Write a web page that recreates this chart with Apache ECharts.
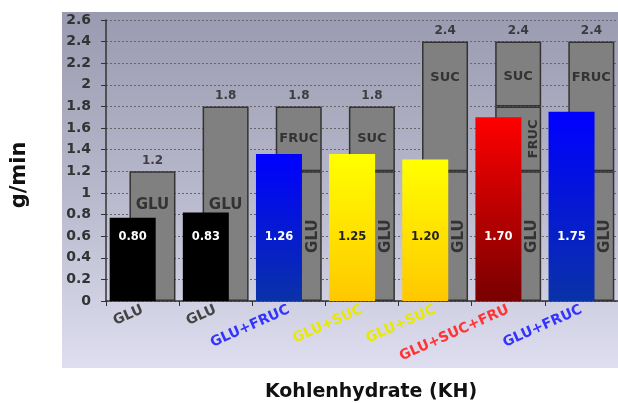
<!DOCTYPE html>
<html>
<head>
<meta charset="utf-8">
<script src="https://cdn.jsdelivr.net/npm/echarts@6/dist/echarts.min.js"></script>
<style>
html,body{margin:0;padding:0;background:#fff;}
#chart{width:618px;height:403px;}
</style>
</head>
<body>
<div id="chart"></div>
<script>
// ---- data ----
const categories = ['GLU', 'GLU', 'GLU+FRUC', 'GLU+SUC', 'GLU+SUC', 'GLU+SUC+FRU', 'GLU+FRUC'];
const categoryColors = ['#444444', '#444444', '#3333ff', '#e8e800', '#e8e800', '#ff3333', '#3333ff'];
const intakeValues = [0.77, 0.82, 1.36, 1.36, 1.31, 1.70, 1.75];
const intakeLabels = ['0.80', '0.83', '1.26', '1.25', '1.20', '1.70', '1.75'];
const gluSegment = [1.2, 1.8, 1.2, 1.2, 1.2, 1.2, 1.2];
const midSegment = [null, null, 0.6, 0.6, 1.2, 0.6, 1.2];
const midNames = ['', '', 'FRUC', 'SUC', 'SUC', 'FRUC', 'FRUC'];
const topSegment = [null, null, null, null, null, 0.6, null];
const topNames = ['', '', '', '', '', 'SUC', ''];
const totals = [1.2, 1.8, 1.8, 1.8, 2.4, 2.4, 2.4];
const totalLabels = ['1.2', '1.8', '1.8', '1.8', '2.4', '2.4', '2.4'];
const yAxisTitle = 'g/min';
const xAxisTitle = 'Kohlenhydrate (KH)';

// ---- styles ----
const FONT = 'DejaVu Sans, Verdana, sans-serif';
const barGradients = [
  ['#000000', '#000000'],
  ['#000000', '#000000'],
  ['#0000ff', '#0a32a8'],
  ['#ffff00', '#ffc800'],
  ['#ffff00', '#ffc800'],
  ['#ff0000', '#780000'],
  ['#0000ff', '#0a32a8']
];
const lightText = [true, true, true, false, false, true, true];
const grad = (a, b) => new echarts.graphic.LinearGradient(0, 0, 0, 1, [{offset: 0, color: a}, {offset: 1, color: b}]);
const grayStyle = {color: '#808080', borderColor: '#333333', borderWidth: 1.5};
const segLabelBase = {show: true, color: '#333333', fontWeight: 'bold', fontSize: 13, fontFamily: FONT};
const gluLabelBase = {show: true, color: '#333333', fontWeight: 'bold', fontSize: 15, fontFamily: FONT};

const chart = echarts.init(document.getElementById('chart'));
chart.setOption({
  animation: false,
  backgroundColor: '#ffffff',
  graphic: [
    {
      type: 'rect', z: -10, silent: true,
      shape: {x: 62, y: 12, width: 560, height: 356},
      style: {fill: new echarts.graphic.LinearGradient(0, 0, 0, 1, [
        {offset: 0, color: '#9a9ab0'}, {offset: 0.5, color: '#b8b8cc'}, {offset: 1, color: '#dedef0'}])}
    },
    {
      type: 'text', x: 20, y: 175, rotation: Math.PI / 2, silent: true,
      style: {text: yAxisTitle, fill: '#111', font: 'bold 21px ' + FONT, align: 'center', verticalAlign: 'middle'}
    },
    {
      type: 'text', x: 371, y: 392, silent: true,
      style: {text: xAxisTitle, fill: '#111', font: 'bold 19px ' + FONT, align: 'center', verticalAlign: 'middle'}
    }
  ],
  grid: {left: 106, top: 20, width: 516.6, height: 281, containLabel: false},
  xAxis: {
    type: 'category',
    data: categories.map((c, i) => ({value: c, textStyle: {color: categoryColors[i]}})),
    axisLine: {lineStyle: {color: '#333', width: 1.5}},
    axisTick: {show: true, length: 5, lineStyle: {color: '#333'}},
    axisLabel: {interval: 0, rotate: 24, fontWeight: 'bold', fontSize: 14, fontFamily: FONT, margin: 8}
  },
  yAxis: {
    type: 'value', min: 0, max: 2.6, interval: 0.2,
    axisLine: {show: true, lineStyle: {color: '#333', width: 1.5}},
    axisTick: {show: true, length: 5, lineStyle: {color: '#333'}},
    axisLabel: {fontWeight: 'bold', fontSize: 14, color: '#333', fontFamily: FONT, margin: 15},
    splitLine: {lineStyle: {color: '#666', type: [2, 2], width: 1}}
  },
  series: [
    {
      type: 'bar', name: 'Aufnahme', z: 4, barWidth: 46, barGap: '-57%',
      data: intakeValues.map((v, i) => ({
        value: v,
        itemStyle: {color: grad(barGradients[i][0], barGradients[i][1])},
        label: {color: lightText[i] ? '#ffffff' : '#222222'}
      })),
      label: {show: true, position: 'insideBottom', offset: [0, -53], fontWeight: 'bold', fontSize: 11.5, fontFamily: FONT,
        formatter: p => intakeLabels[p.dataIndex]}
    },
    {
      type: 'bar', name: 'GLU', stack: 'ox', z: 2, barWidth: 46, barGap: '-57%',
      itemStyle: grayStyle,
      data: gluSegment.map((v, i) => ({
        value: v,
        label: i < 2
          ? Object.assign({}, gluLabelBase, {position: 'insideBottom', offset: [0, -83], formatter: 'GLU'})
          : Object.assign({}, gluLabelBase, {position: 'inside', rotate: 90, offset: [0, 14], formatter: 'GLU'})
      }))
    },
    {
      type: 'bar', name: 'mid', stack: 'ox', z: 2, barWidth: 46, barGap: '-57%',
      itemStyle: grayStyle,
      data: midSegment.map((v, i) => {
        let lab;
        if (i === 5) lab = Object.assign({}, segLabelBase, {position: 'inside', rotate: 90, offset: [0, 15]});
        else if (i === 4 || i === 6) lab = Object.assign({}, segLabelBase, {position: 'insideTop', offset: [0, 25]});
        else lab = Object.assign({}, segLabelBase, {position: 'inside'});
        lab.formatter = midNames[i];
        return {value: v, label: lab};
      })
    },
    {
      type: 'bar', name: 'top', stack: 'ox', z: 2, barWidth: 46, barGap: '-57%',
      itemStyle: grayStyle,
      data: topSegment.map((v, i) => ({
        value: v,
        label: Object.assign({}, segLabelBase, {position: 'insideTop', offset: [0, 24], formatter: topNames[i]})
      }))
    },
    {
      type: 'scatter', name: 'total', z: 5, symbolSize: 1,
      itemStyle: {color: 'rgba(0,0,0,0)'},
      data: totals,
      label: {show: true, position: 'top', distance: 4, offset: [10, 0], color: '#222', fontWeight: 'bold', fontSize: 12,
        fontFamily: FONT, formatter: p => totalLabels[p.dataIndex]}
    }
  ]
});
</script>
</body>
</html>
